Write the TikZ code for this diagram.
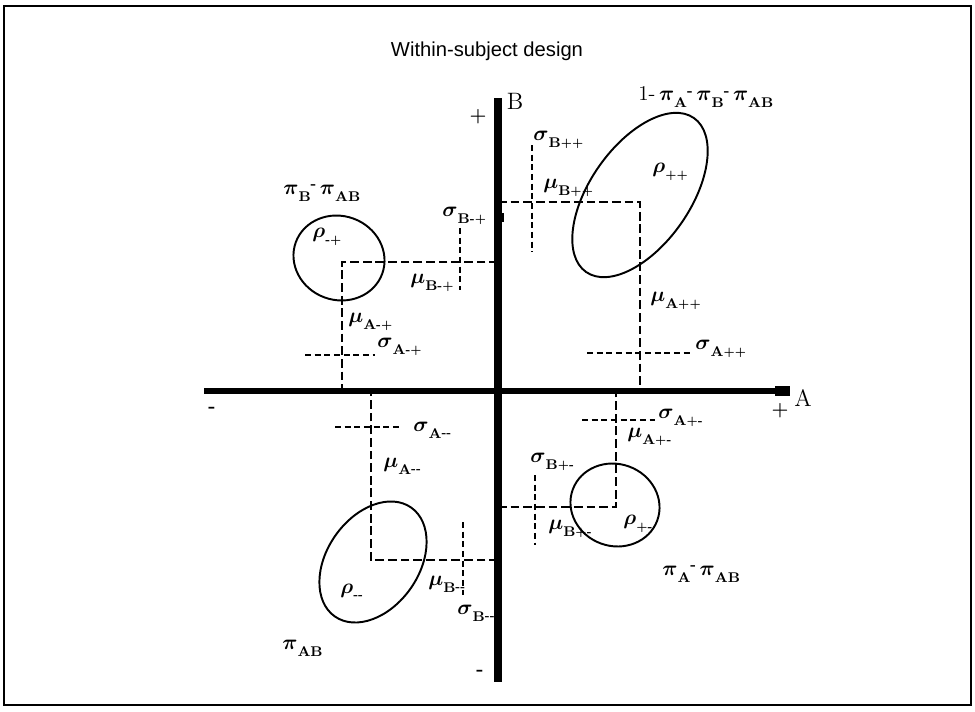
\documentclass[tikz,border=0pt]{standalone}
\usepackage{fontspec}
\usetikzlibrary{shapes.geometric}
\newfontfamily\titlefont{Liberation Sans}
\newcommand{\sublbl}[3]{$#1$\raisebox{-4pt}{\fontsize{8}{8}\selectfont\bfseries #2\raisebox{0.8pt}{\fontsize{6}{6}\selectfont #3}}}
\newcommand{\pisub}[1]{$\pi$\raisebox{-4pt}{\fontsize{8}{8}\selectfont\bfseries #1}}
\newcommand{\hy}{\raisebox{3pt}{\fontsize{8}{8}\selectfont\bfseries -}}
\begin{document}
\begin{tikzpicture}[x=0.02cm,y=-0.02cm,
  meanline/.style={line width=1.2pt, dash pattern=on 5pt off 2.2pt},
  sdline/.style={line width=1.1pt, dash pattern=on 3.5pt off 2pt},
  ell/.style={draw, ellipse, line width=1.1pt, inner sep=0pt, outer sep=0pt},
  lab/.style={anchor=west, inner sep=0pt, font=\fontsize{12}{14}\selectfont\boldmath},
  sign/.style={inner sep=0pt, font=\bfseries\fontsize{11}{11}\selectfont},
]
\useasboundingbox (0,0) rectangle (975,711);
\draw[line width=1.4pt] (4,6) rectangle (971,705);
\node[font=\titlefont\fontsize{11.5}{13}\selectfont] (title) at (487,51) {Within-subject design};

% ellipses
\node[ell, minimum width=3.76cm, minimum height=2cm, rotate=55] (epp) at (640,195) {};
\node[ell, minimum width=1.84cm, minimum height=1.68cm, rotate=-20] (emp) at (339,258) {};
\node[ell, minimum width=2.66cm, minimum height=1.84cm, rotate=55] (emm) at (373,562) {};
\node[ell, minimum width=1.8cm, minimum height=1.64cm, rotate=-20] (epm) at (615,505) {};

% axes coordinates
\coordinate (Btop) at (498,98);
\coordinate (Bbot) at (498,682);
\coordinate (Aleft) at (204,391);
\coordinate (Aright) at (790,391);
\coordinate (Astub) at (775,391);

% means
\coordinate (mpp) at (640,202);
\coordinate (mmp) at (342,262);
\coordinate (mmm) at (371,560);
\coordinate (mpm) at (616,507);
\draw[meanline] (mpp -| Btop) -- (mpp) -- (mpp |- Aleft);
\draw[meanline] (mmp -| Btop) -- (mmp) -- (mmp |- Aleft);
\draw[meanline] (mmm -| Btop) -- (mmm) -- (mmm |- Aleft);
\draw[meanline] (mpm -| Btop) -- (mpm) -- (mpm |- Aleft);

% standard deviation marks
\coordinate (sbpp1) at (532,145); \coordinate (sbpp2) at (532,252);
\coordinate (sapp1) at (587,353); \coordinate (sapp2) at (693,353);
\coordinate (sbmp1) at (460,228); \coordinate (sbmp2) at (460,290);
\coordinate (samp1) at (305,355); \coordinate (samp2) at (375,355);
\coordinate (samm1) at (335,427); \coordinate (samm2) at (402,427);
\coordinate (sbmm1) at (463,522); \coordinate (sbmm2) at (463,595);
\coordinate (sapm1) at (582,420); \coordinate (sapm2) at (655,420);
\coordinate (sbpm1) at (535,475); \coordinate (sbpm2) at (535,545);
\draw[sdline] (sbpp1) -- (sbpp2);
\draw[sdline] (sapp1) -- (sapp2);
\draw[sdline] (sbmp1) -- (sbmp2);
\draw[sdline] (samp1) -- (samp2);
\draw[sdline] (samm1) -- (samm2);
\draw[sdline] (sbmm1) -- (sbmm2);
\draw[sdline] (sapm1) -- (sapm2);
\draw[sdline] (sbpm1) -- (sbpm2);

% axes
\draw[line width=4.5pt] (Btop) -- (Bbot);
\draw[line width=3.4pt] (Aleft) -- (Aright);
\draw[line width=5.5pt] (Astub) -- (Aright);
\coordinate (tk1) at (503,213); \coordinate (tk2) at (503,222);
\draw[line width=1pt] (tk1) -- (tk2);

% axis labels
\node[font=\fontsize{13.5}{15}\selectfont, inner sep=0pt] (Blab) at (515,101) {B};
\node[font=\fontsize{13.5}{15}\selectfont, inner sep=0pt] (Alab) at (803,398) {A};
\node[sign] (Bplus) at (478,117) {+};
\node[sign] (Aplus) at (780,411) {+};
\node[sign] (Aminus) at (212,410) {-};
\node[sign] (Bminus) at (480,673) {-};

% labels ++
\node[lab] (pipp) at (638,97) {1-\,\pisub{A}\hy\,\pisub{B}\hy\,\pisub{AB}};
\node[lab] (sbpp) at (533,140) {\sublbl{\sigma}{B}{++}};
\node[lab] (mbpp) at (543,188) {\sublbl{\mu}{B}{++}};
\node[lab] (rpp) at (652,172) {\sublbl{\rho}{}{++}};
\node[lab] (mapp) at (650,301) {\sublbl{\mu}{A}{++}};
\node[lab] (sapp) at (695,349) {\sublbl{\sigma}{A}{++}};

% labels -+
\node[lab] (pimp) at (283,193) {\pisub{B}\hy\,\pisub{AB}};
\node[lab] (rmp) at (312,237) {\sublbl{\rho}{}{-+}};
\node[lab] (sbmp) at (442,216) {\sublbl{\sigma}{B}{-+}};
\node[lab] (mbmp) at (410,283) {\sublbl{\mu}{B}{-+}};
\node[lab] (mamp) at (348,322) {\sublbl{\mu}{A}{-+}};
\node[lab] (samp) at (377,347) {\sublbl{\sigma}{A}{-+}};

% labels --
\node[lab] (samm) at (413,430) {\sublbl{\sigma}{A}{-{}-}};
\node[lab] (mamm) at (383,466) {\sublbl{\mu}{A}{-{}-}};
\node[lab] (rmm) at (340,592) {\sublbl{\rho}{}{-{}-}};
\node[lab] (mbmm) at (428,584) {\sublbl{\mu}{B}{-{}-}};
\node[lab] (sbmm) at (457,613) {\sublbl{\sigma}{B}{-{}-}};
\node[lab] (pimm) at (282,648) {\pisub{AB}};

% labels +-
\node[lab] (sapm) at (658,418) {\sublbl{\sigma}{A}{+-}};
\node[lab] (mapm) at (627,437) {\sublbl{\mu}{A}{+-}};
\node[lab] (sbpm) at (530,462) {\sublbl{\sigma}{B}{+-}};
\node[lab] (mbpm) at (548,529) {\sublbl{\mu}{B}{+-}};
\node[lab] (rpm) at (623,524) {\sublbl{\rho}{}{+-}};
\node[lab] (pipm) at (662,574) {\pisub{A}\hy\,\pisub{AB}};
\end{tikzpicture}
\end{document}
